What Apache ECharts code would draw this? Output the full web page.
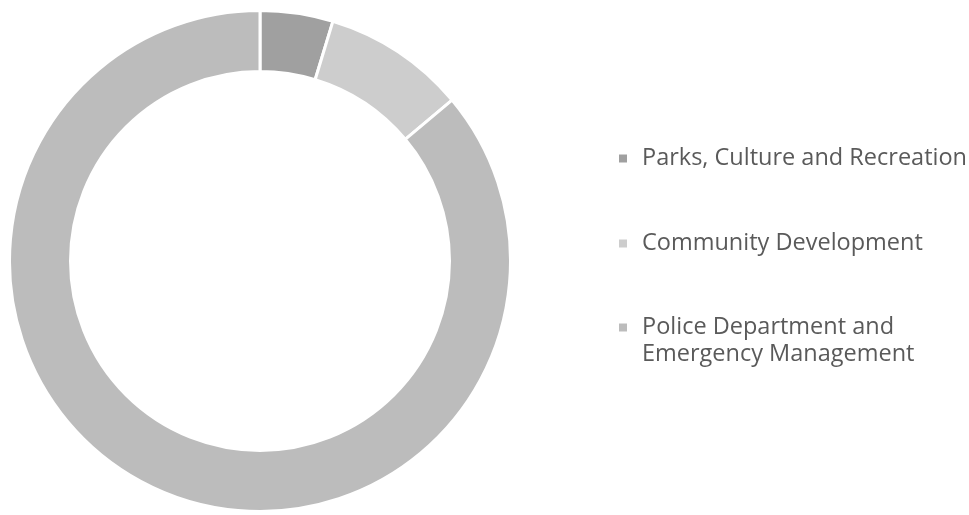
<!DOCTYPE html>
<html>
<head>
<meta charset="utf-8">
<script src="https://cdn.jsdelivr.net/npm/echarts@6/dist/echarts.min.js"></script>
<style>
  html, body { margin: 0; padding: 0; background: #ffffff; }
  #chart { width: 969px; height: 515px; }
</style>
</head>
<body>
<div id="chart"></div>
<script>
// Spending share by department (percent of total)
const categories = [
  'Parks, Culture and Recreation',
  'Community Development',
  'Police Department and Emergency Management'
];
// Legend text; the leading blank line keeps the marker beside the first wrapped line
const legendLabels = [
  'Parks, Culture and Recreation',
  'Community Development',
  ' \nPolice Department and\nEmergency Management'
];
const shares = [4.7, 9.2, 86.1];
const sliceColors = ['#a0a0a0', '#cdcdcd', '#bcbcbc'];

const chart = echarts.init(document.getElementById('chart'), null, { renderer: 'canvas' });

const legendFont = {
  fontFamily: 'Open Sans',
  fontSize: 23.5,
  color: '#5a5a5a',
  lineHeight: 27,
  padding: [0, 0, 0, 10]
};

// One legend block per entry
const legendTops = [145, 230, 287];
const legends = categories.map((name, i) => ({
  orient: 'vertical',
  left: 619,
  top: legendTops[i],
  padding: 0,
  itemWidth: 8,
  itemHeight: 8,
  icon: 'rect',
  selectedMode: false,
  itemStyle: { borderWidth: 0 },
  data: [name],
  formatter: () => legendLabels[i],
  textStyle: legendFont,
  itemGap: 0
}));

chart.setOption({
  animation: false,
  backgroundColor: '#ffffff',
  legend: legends,
  series: [{
    type: 'pie',
    center: [260, 261],
    radius: [189.5, 250.5],
    startAngle: 90,
    clockwise: true,
    label: { show: false },
    labelLine: { show: false },
    emphasis: { disabled: true },
    itemStyle: { borderColor: '#ffffff', borderWidth: 3 },
    data: categories.map((name, i) => ({
      name: name,
      value: shares[i],
      itemStyle: { color: sliceColors[i] }
    }))
  }]
});
</script>
</body>
</html>
